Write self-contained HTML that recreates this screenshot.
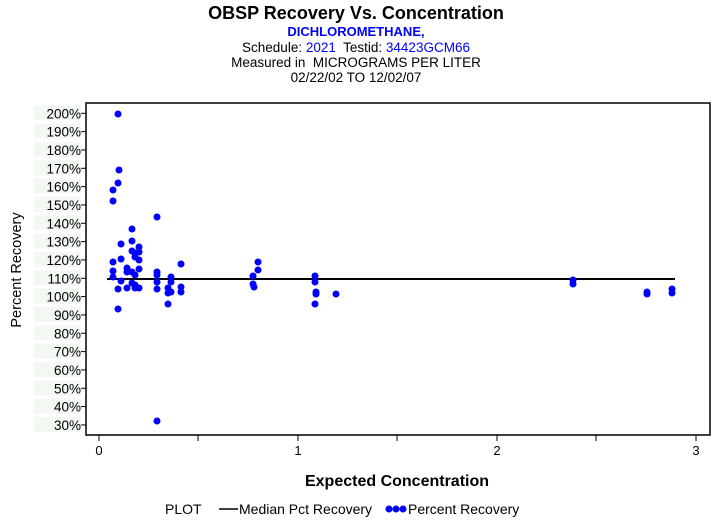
<!DOCTYPE html>
<html><head><style>
body{margin:0;background:#fff;width:713px;height:523px;overflow:hidden;font-family:"Liberation Sans",Arial,sans-serif}
</style></head><body>
<svg width="713" height="523" xmlns="http://www.w3.org/2000/svg" font-family="Liberation Sans, Arial, sans-serif">
<text x="356" y="19" text-anchor="middle" font-size="18" font-weight="bold">OBSP Recovery Vs. Concentration</text>
<text x="356" y="36" text-anchor="middle" font-size="13" font-weight="bold" fill="#0000ff">DICHLOROMETHANE,</text>
<text x="356" y="52" text-anchor="middle" font-size="13.5" style="white-space:pre"><tspan>Schedule: </tspan><tspan fill="#0000ff">2021</tspan><tspan>  Testid: </tspan><tspan fill="#0000ff">34423GCM66</tspan></text>
<text x="356" y="67" text-anchor="middle" font-size="13.5" style="white-space:pre">Measured in  MICROGRAMS PER LITER</text>
<text x="356" y="82" text-anchor="middle" font-size="13.5">02/22/02 TO 12/02/07</text>
<g id="yl" font-size="13.5" text-anchor="end"></g>
<rect x="86" y="103" width="624" height="332" fill="none" stroke="#000" stroke-width="1.5"/>
<g stroke="#000" stroke-width="1">
<line x1="99" y1="435" x2="99" y2="441"/><line x1="198" y1="435" x2="198" y2="441"/><line x1="298" y1="435" x2="298" y2="441"/><line x1="397" y1="435" x2="397" y2="441"/><line x1="497" y1="435" x2="497" y2="441"/><line x1="596" y1="435" x2="596" y2="441"/><line x1="696" y1="435" x2="696" y2="441"/>
</g>
<g font-size="13" text-anchor="middle"><text x="99" y="455">0</text><text x="298" y="455">1</text><text x="497" y="455">2</text><text x="696" y="455">3</text></g>
<text x="397" y="486" text-anchor="middle" font-size="16" font-weight="bold">Expected Concentration</text>
<text x="21" y="270" text-anchor="middle" font-size="14.5" transform="rotate(-90 21 270)">Percent Recovery</text>
<line x1="107" y1="279" x2="675" y2="279" stroke="#000" stroke-width="2"/>
<g fill="#0000ff" id="pts"></g>
<text x="165" y="514" font-size="14">PLOT</text>
<line x1="219" y1="509" x2="238" y2="509" stroke="#000" stroke-width="1.5"/>
<text x="239" y="514" font-size="14">Median Pct Recovery</text>
<circle cx="389" cy="509" r="3.5" fill="#0000ff"/><circle cx="396" cy="509" r="3.5" fill="#0000ff"/><circle cx="403" cy="509" r="3.5" fill="#0000ff"/>
<text x="408" y="514" font-size="14">Percent Recovery</text>
<script>
var ns="http://www.w3.org/2000/svg",yl=document.getElementById("yl");
for(var v=200,i=0;v>=30;v-=10,i++){var y=113.3+i*18.33;
var r=document.createElementNS(ns,"rect");r.setAttribute("x",34);r.setAttribute("y",y-8);r.setAttribute("width",47);r.setAttribute("height",15);r.setAttribute("fill","#f3f8f3");yl.appendChild(r);
var t=document.createElementNS(ns,"text");t.setAttribute("x",81);t.setAttribute("y",y+5);t.textContent=v+"%";yl.appendChild(t);
var l=document.createElementNS(ns,"line");l.setAttribute("x1",81);l.setAttribute("x2",86);l.setAttribute("y1",y);l.setAttribute("y2",y);l.setAttribute("stroke","#000");yl.appendChild(l);}
var P=[[118,114],[119,170],[118,183],[113,190],[113,201],[157,217],[132,229],[121,244],[132,241],[139,247],[132,251],[135,253],[139,252],[121,259],[139,260],[135,257],[113,262],[181,264],[127,268],[113,271],[127,272],[132,272],[139,269],[135,275],[157,272],[157,275],[171,277],[113,277],[121,281],[132,283],[135,285],[157,282],[171,282],[118,289],[127,288],[135,288],[139,288],[157,289],[168,288],[168,293],[171,292],[181,287],[181,292],[168,304],[118,309],[157,421],[253,276],[253,284],[254,287],[258,262],[258,270],[315,276],[315,282],[316,292],[316,294],[315,304],[336,294],[573,280],[573,284],[647,292],[647,294],[672,289],[672,293]];
var g=document.getElementById("pts");P.forEach(function(p){var c=document.createElementNS(ns,"circle");c.setAttribute("cx",p[0]);c.setAttribute("cy",p[1]);c.setAttribute("r",3.5);g.appendChild(c);});
</script>
</svg>
</body></html>
